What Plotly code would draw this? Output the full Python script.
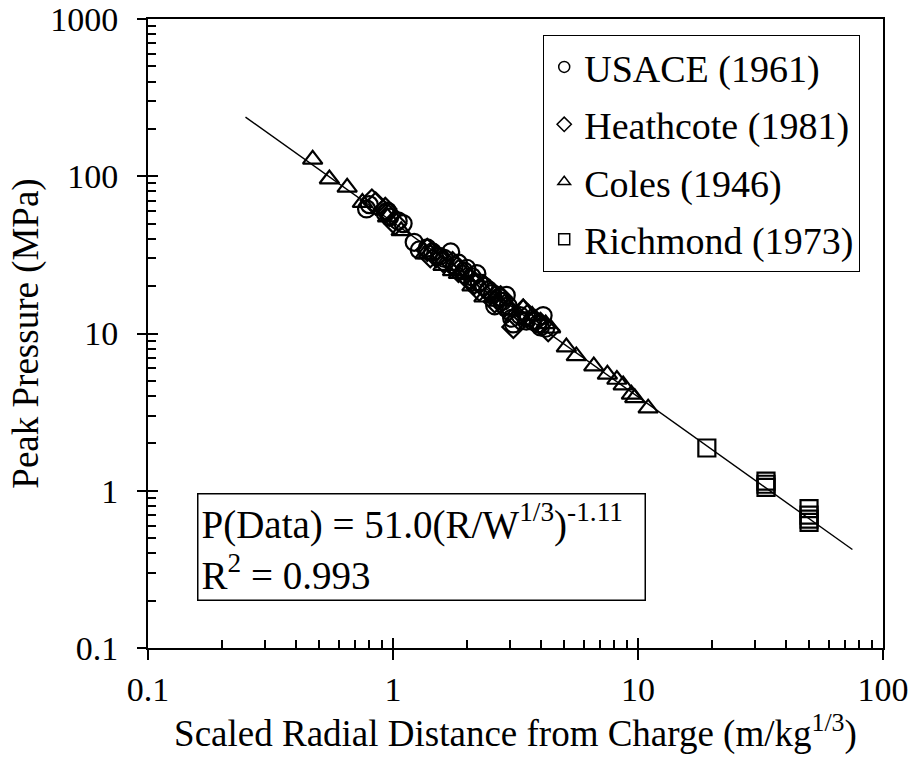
import plotly.graph_objects as go

# ---- data ----
usace_x = [0.78, 0.80, 0.93, 0.95, 0.97, 1.05, 1.10, 1.22, 1.28, 1.38, 1.45, 1.55, 1.62, 1.72, 1.78, 1.85,
           1.95, 2.00, 2.10, 2.20, 2.25, 2.35, 2.45, 2.55, 2.60, 2.70, 2.80, 2.90, 2.95, 3.05, 3.10, 3.30,
           3.50, 3.70, 3.90, 4.00, 4.10, 4.20]
usace_y = [62, 66, 58, 60, 55, 52, 50, 38, 34, 35, 33, 31, 30, 33, 27, 28,
           25, 26, 23, 24, 21, 20, 19, 18, 15, 17, 16, 17.5, 15, 12.5, 11.5, 13,
           12, 12, 11.5, 11, 13, 10.8]

heath_x = [0.82, 0.85, 0.93, 0.97, 1.02, 1.38, 1.42, 1.50, 1.60, 1.75, 1.85, 1.95, 2.05, 2.15, 2.25, 2.35,
           2.50, 2.60, 2.75, 2.85, 2.95, 3.10, 3.25, 3.40, 3.55, 3.80, 4.00, 4.30]
heath_y = [70, 67, 62, 57, 50, 34, 31, 31, 29, 28, 25, 24, 22, 21, 19, 20,
           18, 16, 17, 15, 14, 11, 12.5, 14, 13, 12, 11.5, 10.5]

coles_x = [0.47, 0.55, 0.65, 0.75, 0.95, 1.08, 1.35, 1.60, 1.75, 1.85, 2.10, 2.35, 2.70, 3.00, 3.40, 3.70,
           4.20, 4.40, 5.10, 5.60, 6.60, 7.50, 8.20, 8.70, 9.40, 9.70, 11.0]
coles_y = [128, 96, 85, 68, 55, 45, 32, 27, 25, 24, 20, 17, 16, 14, 14.5, 13,
           11.5, 10.8, 8.2, 7.2, 6.2, 5.5, 5.1, 4.7, 4.1, 3.9, 3.35]

rich_x = [19.1, 33.3, 33.3, 33.3, 49.9, 49.9, 49.9, 49.9]
rich_y = [1.87, 1.05, 1.10, 1.15, 0.63, 0.66, 0.70, 0.77]

fit_x = [0.25, 75.0]
fit_y = [51.0 * v ** -1.11 for v in fit_x]

x_tickvals = [0.1, 1, 10, 100]
x_ticktext = ["0.1", "1", "10", "100"]
y_tickvals = [0.1, 1, 10, 100, 1000]
y_ticktext = ["0.1", "1", "10", "100", "1000"]

series = [
    ("USACE (1961)", usace_x, usace_y, "circle-open"),
    ("Heathcote (1981)", heath_x, heath_y, "diamond-open"),
    ("Coles (1946)", coles_x, coles_y, "triangle-up-open"),
    ("Richmond (1973)", rich_x, rich_y, "square-open"),
]

FONT = "Liberation Serif, Times New Roman, serif"

fig = go.Figure()
fig.add_trace(go.Scatter(x=fit_x, y=fit_y, mode="lines", line=dict(color="black", width=1.4),
                         showlegend=False, hoverinfo="skip"))
for name, xs, ys, sym in series:
    fig.add_trace(go.Scatter(x=xs, y=ys, mode="markers", name=name, showlegend=False,
                             marker=dict(symbol=sym, size=17, color="black",
                                         line=dict(color="black", width=2.2))))
for name, xs, ys, sym in series:
    fig.add_trace(go.Scatter(x=[None], y=[None], mode="markers", name=name, legendgroup=name,
                             marker=dict(symbol=sym, size=11, color="black",
                                         line=dict(color="black", width=1.5))))

minor_x = [m * 10 ** e for e in (-1, 0, 1) for m in range(2, 10)]
minor_y = [m * 10 ** e for e in (-1, 0, 1, 2) for m in range(2, 10)]

fig.update_layout(
    width=915, height=763,
    margin=dict(l=148, r=32, t=19, b=115, autoexpand=False),
    paper_bgcolor="white", plot_bgcolor="white",
    font=dict(family=FONT, size=34, color="black"),
    xaxis=dict(type="log", range=[-1, 2], showline=True, linecolor="black", linewidth=2, mirror=True,
               automargin=False,
               showgrid=False, zeroline=False, tickmode="array", tickvals=x_tickvals, ticktext=x_ticktext,
               ticks="outside", ticklen=10, tickwidth=2, tickcolor="black", ticklabelstandoff=0,
               minor=dict(tickmode="array", tickvals=minor_x, ticks="inside", ticklen=8,
                          tickwidth=1.5, tickcolor="black", showgrid=False),
               tickfont=dict(size=34),
               title=dict(text="Scaled Radial Distance from Charge (m/kg<sup>1/3</sup>)",
                          font=dict(size=37), standoff=6)),
    yaxis=dict(type="log", range=[-1, 3], showline=True, linecolor="black", linewidth=2, mirror=True,
               automargin=False,
               showgrid=False, zeroline=False, tickmode="array", tickvals=y_tickvals, ticktext=y_ticktext,
               ticks="outside", ticklen=9, tickwidth=2, tickcolor="black", ticklabelstandoff=12,
               minor=dict(tickmode="array", tickvals=minor_y, ticks="inside", ticklen=8,
                          tickwidth=1.5, tickcolor="black", showgrid=False),
               tickfont=dict(size=34),
               title=dict(text="Peak Pressure (MPa)", font=dict(size=37), standoff=0)),
    xaxis2=dict(type="log", range=[-1, 2], overlaying="x", anchor="y", side="bottom", automargin=False,
                showline=False, showgrid=False, zeroline=False, tickmode="array", tickvals=x_tickvals,
                ticks="inside", ticklen=10, tickwidth=2, tickcolor="black", showticklabels=False),
    yaxis2=dict(type="log", range=[-1, 3], overlaying="y", anchor="x", side="left", automargin=False,
                showline=False, showgrid=False, zeroline=False, tickmode="array", tickvals=y_tickvals,
                ticks="inside", ticklen=10, tickwidth=2, tickcolor="black", showticklabels=False),
    legend=dict(x=0.969, y=0.975, xanchor="right", yanchor="top", bgcolor="white",
                bordercolor="black", borderwidth=1, font=dict(size=38), tracegroupgap=5,
                itemwidth=30),
    showlegend=True,
)

# invisible trace on overlay axes so they render
fig.add_trace(go.Scatter(x=[None], y=[None], xaxis="x2", yaxis="y2", showlegend=False, hoverinfo="skip"))

fig.add_annotation(
    xref="paper", yref="paper", x=0.0667, y=0.2464, xanchor="left", yanchor="top",
    text="P(Data) = 51.0(R/W<sup>1/3</sup>)<sup>-1.11</sup><br>R<sup>2</sup> = 0.993",
    align="left", showarrow=False, font=dict(size=39, family=FONT), width=440,
    bordercolor="black", borderwidth=1.5, borderpad=3, bgcolor="white",
)

fig.write_html("out.html", config={"displayModeBar": False},
               post_script="document.body.style.margin='0';document.body.style.padding='0';")
